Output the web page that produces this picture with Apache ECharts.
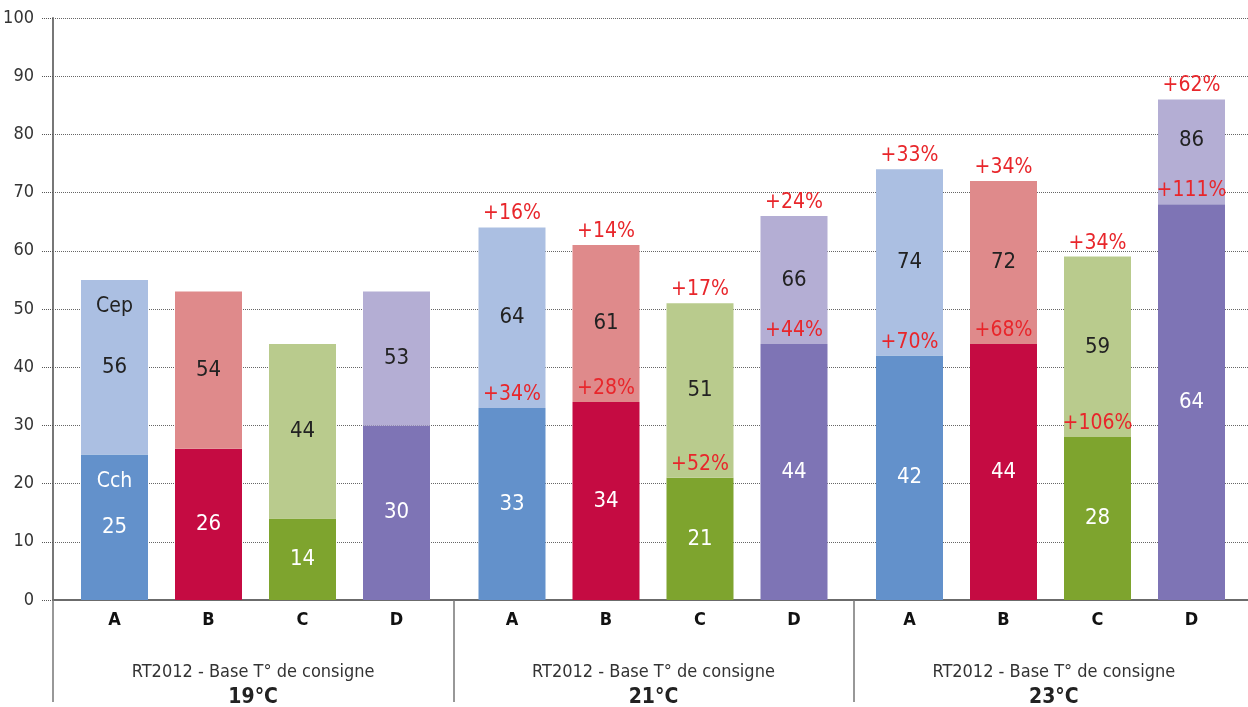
<!DOCTYPE html>
<html>
<head>
<meta charset="utf-8">
<script src="https://cdn.jsdelivr.net/npm/echarts@6/dist/echarts.min.js"></script>
<style>
  html, body { margin: 0; padding: 0; background: #fff; }
  #chart { width: 1248px; height: 707px; }
</style>
</head>
<body>
<div id="chart"></div>
<script>
// groups of bars and the four cases inside each group
var groups = ['19°C', '21°C', '23°C'];
var letters = ['A', 'B', 'C', 'D'];

// bar heights (A..D for 19, 21, 23 °C)
var cch = [25, 26, 14, 30, 33, 34, 21, 44, 42, 44, 28, 68];
var cep = [55, 53, 44, 53, 64, 61, 51, 66, 74, 72, 59, 86];

// printed values
var cchText = [25, 26, 14, 30, 33, 34, 21, 44, 42, 44, 28, 64];
var cepText = [56, 54, 44, 53, 64, 61, 51, 66, 74, 72, 59, 86];

// increase versus 19°C
var cchPct = ['', '', '', '', '+34%', '+28%', '+52%', '+44%', '+70%', '+68%', '+106%', '+111%'];
var cepPct = ['', '', '', '', '+16%', '+14%', '+17%', '+24%', '+33%', '+34%', '+34%', '+62%'];

var darkColors = ['#6391cb', '#c50b42', '#7ea42e', '#7e74b5'];
var lightColors = ['#abbfe2', '#df8a8b', '#b9cb8d', '#b4aed4'];

var FONT = "'DejaVu Sans Condensed', Roboto, sans-serif";
var RED = '#e8262b';

var chart = echarts.init(document.getElementById('chart'));

var grid = [{left: 53, right: -6, top: 18, bottom: 107, outerBoundsMode: 'none', containLabel: false}];
var xAxis = [{
  type: 'category',
  gridIndex: 0,
  data: groups,
  axisLine: {lineStyle: {color: '#6b6b6b', width: 2}},
  axisTick: {show: true, length: 102, lineStyle: {color: '#777', width: 1.5}},
  axisLabel: {
    margin: 59,
    lineHeight: 26,
    fontFamily: FONT,
    fontSize: 18,
    color: '#333',
    formatter: function (v) { return 'RT2012 - Base T° de consigne\n{b|' + v + '}'; },
    rich: {b: {fontFamily: FONT, fontSize: 21, fontWeight: 'bold', color: '#222', lineHeight: 26}}
  }
}];
var yAxis = [{
  type: 'value',
  gridIndex: 0,
  min: 0, max: 100, interval: 10,
  axisLine: {show: true, lineStyle: {color: '#777', width: 2}},
  axisTick: {show: true, length: 12, lineStyle: {color: '#555', type: 'dotted'}},
  axisLabel: {margin: 19, fontFamily: FONT, fontSize: 18, color: '#333'},
  splitLine: {show: true, lineStyle: {color: '#666', type: 'dotted', width: 1}}
}];
var series = [];

for (var g = 0; g < groups.length; g++) {
  grid.push({left: 67.5 + g * 397.5, width: 376, top: 18, bottom: 107, outerBoundsMode: 'none', containLabel: false});
  xAxis.push({
    type: 'category',
    gridIndex: g + 1,
    data: letters,
    axisLine: {show: false},
    axisTick: {show: false},
    axisLabel: {margin: 11, fontFamily: FONT, fontSize: 18, fontWeight: 'bold', color: '#111'}
  });
  yAxis.push({type: 'value', gridIndex: g + 1, min: 0, max: 100, show: false});

  var darkData = [], markDark = [], lightData = [], markTop = [];
  for (var k = 0; k < letters.length; k++) {
    var i = g * 4 + k;
    darkData.push({value: cch[i], itemStyle: {color: darkColors[k]}});
    lightData.push({value: cep[i] - cch[i], itemStyle: {color: lightColors[k]}});
    markDark.push({value: 0});
    markTop.push({value: 0});
  }
  // legend words inside the first bar
  if (g === 0) {
    markDark[0].label = {show: true, position: 'bottom', distance: 17, color: '#fff', formatter: 'Cch'};
    markTop[0].label = {show: true, position: 'bottom', distance: 16, color: '#222', formatter: 'Cep'};
  }
  // last bar: value sits higher, leaving room for the percentage
  if (g === 2) {
    lightData[3].label = {offset: [0, -12]};
  }

  var common = {
    type: 'bar',
    xAxisIndex: g + 1,
    yAxisIndex: g + 1,
    stack: 'g' + g,
    barWidth: 67,
    silent: true
  };
  (function (g) {
    series.push(Object.assign({}, common, {
      name: 'Cch',
      data: darkData,
      label: {show: true, position: 'inside', fontFamily: FONT, fontSize: 22, color: '#fff',
        formatter: function (p) { return cchText[g * 4 + p.dataIndex]; }}
    }));
    series.push(Object.assign({}, common, {
      name: 'CchPct',
      data: markDark,
      label: {show: true, position: 'top', distance: 3, fontFamily: FONT, fontSize: 21, color: RED,
        formatter: function (p) { return cchPct[g * 4 + p.dataIndex]; }}
    }));
    series.push(Object.assign({}, common, {
      name: 'Cep',
      data: lightData,
      label: {show: true, position: 'inside', fontFamily: FONT, fontSize: 22, color: '#222',
        formatter: function (p) { return cepText[g * 4 + p.dataIndex]; }}
    }));
    series.push(Object.assign({}, common, {
      name: 'CepPct',
      data: markTop,
      label: {show: true, position: 'top', distance: 3, fontFamily: FONT, fontSize: 21, color: RED,
        formatter: function (p) { return cepPct[g * 4 + p.dataIndex]; }}
    }));
  })(g);
}

var option = {
  animation: false,
  backgroundColor: '#fff',
  textStyle: {fontFamily: FONT},
  grid: grid,
  xAxis: xAxis,
  yAxis: yAxis,
  series: series
};
chart.setOption(option);
</script>
</body>
</html>
